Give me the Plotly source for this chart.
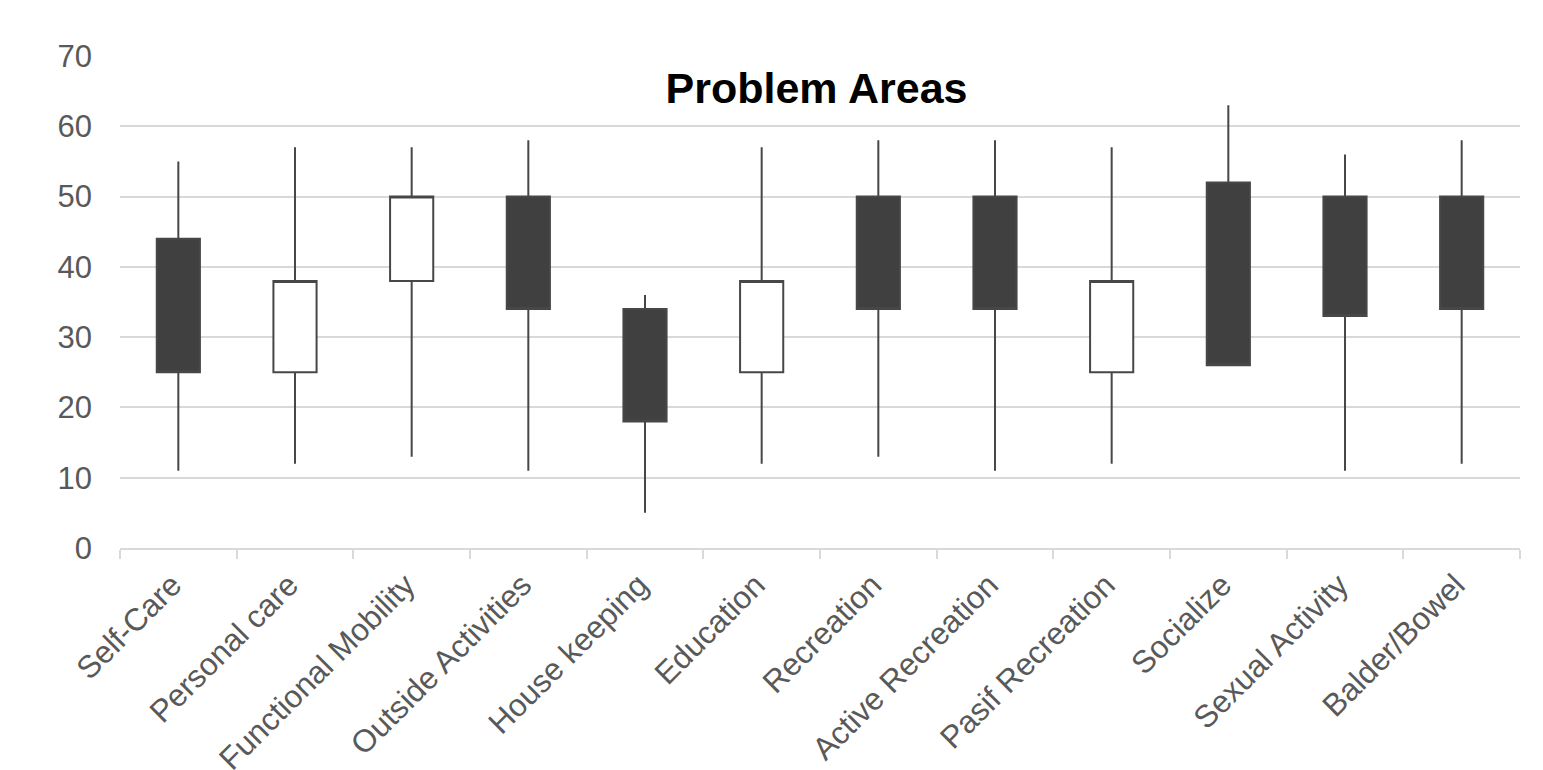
import plotly.graph_objects as go

categories = ["Self-Care", "Personal care", "Functional Mobility", "Outside Activities",
              "House keeping", "Education", "Recreation", "Active Recreation",
              "Pasif Recreation", "Socialize", "Sexual Activity", "Balder/Bowel"]
open_vals = [44, 25, 38, 50, 34, 25, 50, 50, 25, 52, 50, 50]
high_vals = [55, 57, 57, 58, 36, 57, 58, 58, 57, 63, 56, 58]
low_vals = [11, 12, 13, 11, 5, 12, 13, 11, 12, 26, 11, 12]
close_vals = [25, 38, 50, 34, 18, 38, 34, 34, 38, 26, 33, 34]

fig = go.Figure(go.Candlestick(
    x=categories, open=open_vals, high=high_vals, low=low_vals, close=close_vals,
    increasing=dict(fillcolor="#ffffff", line=dict(color="#474747", width=2)),
    decreasing=dict(fillcolor="#404040", line=dict(color="#474747", width=2)),
    whiskerwidth=0, hoverinfo="skip",
))

fig.update_layout(
    width=1543, height=770,
    margin=dict(l=112, r=31, t=48, b=230),
    paper_bgcolor="white", plot_bgcolor="white",
    font=dict(family="Liberation Sans, Arial, sans-serif", color="#595959"),
    showlegend=False,
    boxgap=0.63, boxgroupgap=0,
    title=dict(text="<b>Problem Areas</b>", x=0.524, xanchor="center",
               y=1 - 80 / 770, yref="container", yanchor="middle",
               font=dict(size=43, color="#000000")),
    xaxis=dict(type="category", rangeslider=dict(visible=False), automargin=False,
               tickson="boundaries", ticks="outside", ticklen=9, tickwidth=2,
               tickcolor="#d9d9d9", showline=True, linecolor="#d9d9d9", linewidth=2,
               showgrid=False, tickangle=-45, ticklabelstandoff=4, ticklabelshift=-6,
               tickfont=dict(size=31.5, color="#595959")),
    yaxis=dict(range=[0, 70], dtick=10, showgrid=True, gridcolor="#d9d9d9", gridwidth=2,
               automargin=False,
               zeroline=False, showline=False, ticks="", ticklabelstandoff=27,
               tickfont=dict(size=31, color="#595959")),
)

fig.write_html("out.html")
